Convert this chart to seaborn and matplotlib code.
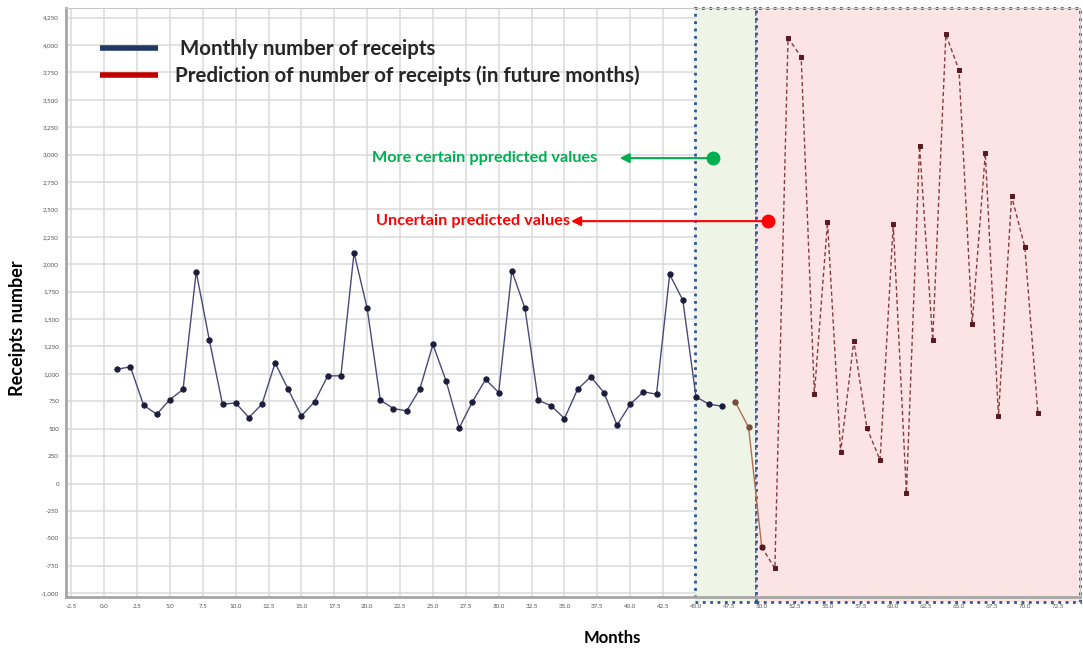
import numpy as np
import pandas as pd
import matplotlib
matplotlib.use("Agg")
import matplotlib.pyplot as plt
from matplotlib.lines import Line2D
from matplotlib.patches import Rectangle
from matplotlib.ticker import FuncFormatter, MultipleLocator
import seaborn as sns

# ---------------- data ----------------
months_hist = list(range(1, 48))
receipts_hist = [1043, 1064, 714, 632, 766, 858, 1931, 1307, 723, 735,
                 602, 723, 1100, 858, 617, 745, 982, 982, 2104, 1597,
                 760, 684, 662, 860, 1268, 936, 507, 745, 949, 830,
                 1940, 1597, 760, 708, 593, 860, 973, 830, 532, 723,
                 836, 815, 1907, 1672, 790, 723, 705]
months_pred = list(range(48, 72))
receipts_pred = [741, 513, -579, -775, 4064, 3891, 812, 2386, 285, 1301,
                 505, 213, 2366, -86, 3077, 1307, 4096, 3771, 1453, 3011,
                 614, 2621, 2159, 639]
legend_labels = [" Monthly number of receipts",
                 "Prediction of number of receipts (in future months)"]
note_certain = "More certain ppredicted values"
note_uncertain = "Uncertain predicted values"
x_label = "Months"
y_label = "Receipts number"

hist_df = pd.DataFrame({"month": months_hist, "receipts": receipts_hist})
pred_df = pd.DataFrame({"month": months_pred, "receipts": receipts_pred})
pred_near = pred_df.iloc[:3]
pred_far = pred_df.iloc[2:]

# ---------------- style ----------------
sns.set_theme(style="white")
plt.rcParams["font.family"] = ["Lato", "DejaVu Sans"]

fig = plt.figure(figsize=(10.83, 6.5), dpi=100)
ax = fig.add_axes([66 / 1083, 1 - 597 / 650, (1080 - 66) / 1083, (597 - 8) / 650])

ax.set_xlim(-2.9, 74.2)
ax.set_ylim(-1035, 4337)

# shaded regions
ax.add_patch(Rectangle((44.95, -1080), 49.57 - 44.95, 4337 + 1080,
                       facecolor="#eef5e6", edgecolor="#2f5597", linestyle=":",
                       linewidth=2, clip_on=False, zorder=1))
ax.add_patch(Rectangle((49.57, -1080), 74.2 - 49.57, 4337 + 1080,
                       facecolor="#fde4e4", edgecolor="#2f5597", linestyle=":",
                       linewidth=2, clip_on=False, zorder=1))

# grid
ax.xaxis.set_major_locator(MultipleLocator(2.5))
ax.yaxis.set_major_locator(MultipleLocator(250))
ax.grid(True, color="#dadada", linewidth=1.1, zorder=0)
ax.set_axisbelow(True)

# series
sns.lineplot(data=hist_df, x="month", y="receipts", ax=ax, color="#4a4a78",
             linewidth=1.0, marker="o", markersize=3.8, markerfacecolor="#1c1c3c",
             markeredgecolor="#1c1c3c", zorder=4)
sns.lineplot(data=pred_near, x="month", y="receipts", ax=ax, color="#b07050",
             linewidth=1.0, marker="o", markersize=3.8, markerfacecolor="#7a4a3a",
             markeredgecolor="#7a4a3a", zorder=4)
sns.lineplot(data=pred_far, x="month", y="receipts", ax=ax, color="#8a3a44",
             linewidth=1.0, linestyle=(0, (3, 2)), marker="s", markersize=3.5,
             markerfacecolor="#5a1a24", markeredgecolor="#5a1a24", zorder=4)

# ticks
ax.yaxis.set_major_formatter(FuncFormatter(lambda v, p: f"{int(round(v)):,}"))
ax.xaxis.set_major_formatter(FuncFormatter(lambda v, p: f"{v:.1f}"))
ax.tick_params(axis="both", labelsize=4.5, labelcolor="#555555", length=2,
               color="#999999", pad=3)

for s in ["left", "bottom"]:
    ax.spines[s].set_color("#a6a6a6")
    ax.spines[s].set_linewidth(2)
for s in ["top", "right"]:
    ax.spines[s].set_color("#c8c8c8")
    ax.spines[s].set_linewidth(0.8)

ax.set_xlabel("")
ax.set_ylabel("")
fig.text(612 / 1083, 1 - 638 / 650, x_label, ha="center", va="center",
         fontsize=12, fontweight="bold", color="black")
fig.text(18 / 1083, 1 - 328 / 650, y_label, ha="center", va="center",
         rotation=90, fontsize=13, fontweight="bold", color="black")

# legend
handles = [Line2D([0], [0], color="#1f3864", linewidth=4, solid_capstyle="butt"),
           Line2D([0], [0], color="#c00000", linewidth=4, solid_capstyle="butt")]
ax.legend(handles, legend_labels, loc="upper left",
          bbox_to_anchor=(100 / 1083, 1 - 39 / 650), bbox_transform=fig.transFigure,
          frameon=False, borderpad=0, borderaxespad=0, handlelength=2.8,
          handletextpad=0.85, labelspacing=0.32,
          prop={"size": 14.8, "weight": "bold", "family": ["Lato", "DejaVu Sans"]})

# annotations
green_dot = (46.3, 2968)
red_dot = (50.5, 2393)
ax.annotate("", xy=(39.2, green_dot[1]), xytext=green_dot,
            arrowprops=dict(arrowstyle="-|>", color="#00b050", lw=1.5,
                            mutation_scale=14, shrinkA=0, shrinkB=0), zorder=6)
ax.plot([green_dot[0]], [green_dot[1]], marker="o", markersize=9,
        color="#00b050", zorder=7)
ax.text(37.5, green_dot[1], note_certain, ha="right", va="center",
        fontsize=11.7, fontweight="bold", color="#00b050", zorder=7)

ax.annotate("", xy=(35.5, red_dot[1]), xytext=red_dot,
            arrowprops=dict(arrowstyle="-|>", color="#ff0000", lw=1.5,
                            mutation_scale=14, shrinkA=0, shrinkB=0), zorder=6)
ax.plot([red_dot[0]], [red_dot[1]], marker="o", markersize=9,
        color="#ff0000", zorder=7)
ax.text(35.4, red_dot[1], note_uncertain, ha="right", va="center",
        fontsize=11.7, fontweight="bold", color="#ff0000", zorder=7)

fig.savefig("out.png", dpi=100)
